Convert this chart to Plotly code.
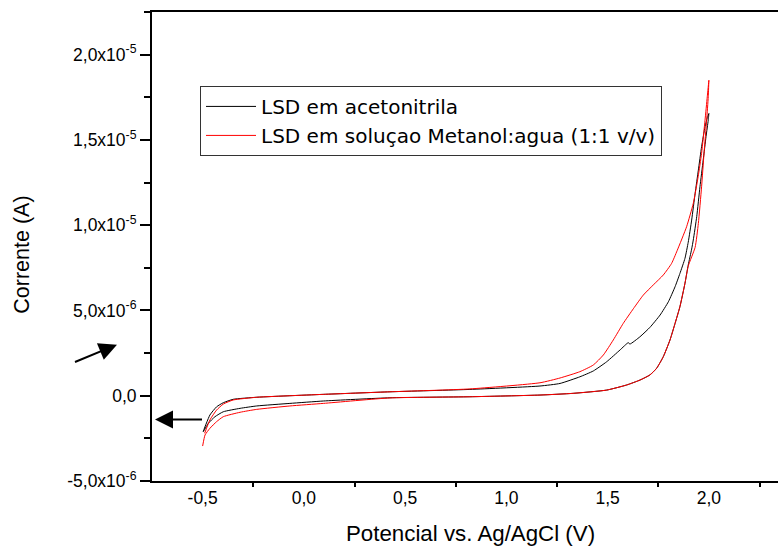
import plotly.graph_objects as go

# Potential (V vs Ag/AgCl) and current (µA), forward scan then reverse scan
acn_fwd_v = [-0.497, -0.464, -0.431, -0.398, -0.349, -0.233, -0.069, 0.096, 0.425, 0.820,
             1.166, 1.265, 1.363, 1.429, 1.495, 1.561, 1.602, 1.610, 1.660, 1.709,
             1.759, 1.800, 1.833, 1.857, 1.882, 1.898, 1.915, 1.932, 1.948, 1.964,
             1.981, 1.992, 2.000]
acn_fwd_i = [-2.11, -1.13, -0.65, -0.41, -0.21, -0.09, 0.00, 0.08, 0.23, 0.37,
             0.57, 0.72, 1.11, 1.45, 1.99, 2.68, 3.11, 3.03, 3.46, 4.01,
             4.73, 5.51, 6.39, 7.17, 8.06, 9.00, 10.30, 11.86, 13.23, 14.60,
             15.77, 16.30, 16.55]
acn_rev_v = [2.000, 1.997, 1.986, 1.972, 1.956, 1.940, 1.923, 1.915, 1.898, 1.882,
             1.857, 1.833, 1.808, 1.775, 1.742, 1.709, 1.660, 1.594, 1.495, 1.330,
             1.166, 0.820, 0.425, 0.096, -0.069, -0.233, -0.315, -0.398, -0.439, -0.472,
             -0.497]
acn_rev_i = [16.55, 16.16, 15.20, 13.82, 12.25, 10.50, 9.13, 8.60, 7.66, 6.59,
             5.22, 4.24, 3.27, 2.29, 1.61, 1.22, 0.92, 0.63, 0.33, 0.14,
             0.04, -0.06, -0.12, -0.31, -0.45, -0.60, -0.74, -0.94, -1.23, -1.62,
             -2.11]

meoh_fwd_v = [-0.490, -0.464, -0.431, -0.398, -0.349, -0.233, -0.069, 0.096, 0.425, 0.820,
              1.166, 1.265, 1.363, 1.429, 1.479, 1.528, 1.577, 1.627, 1.676, 1.725,
              1.775, 1.816, 1.843, 1.890, 1.923, 1.947, 1.964, 1.981, 1.992, 2.000]
meoh_fwd_i = [-2.20, -1.42, -0.84, -0.49, -0.25, -0.09, 0.00, 0.08, 0.23, 0.40,
              0.76, 1.04, 1.41, 1.80, 2.39, 3.27, 4.24, 5.10, 5.90, 6.49,
              7.08, 7.76, 8.50, 9.91, 11.28, 12.84, 14.21, 16.16, 17.53, 18.50]
meoh_rev_v = [2.000, 1.997, 1.989, 1.976, 1.964, 1.948, 1.932, 1.898, 1.882,
              1.857, 1.833, 1.808, 1.775, 1.742, 1.709, 1.660, 1.594, 1.495, 1.330,
              1.166, 0.820, 0.425, 0.096, -0.069, -0.233, -0.315, -0.398, -0.431, -0.464,
              -0.488, -0.500]
meoh_rev_i = [18.50, 17.53, 16.16, 14.21, 12.25, 10.10, 8.70, 7.60, 6.60,
              5.22, 4.24, 3.27, 2.29, 1.61, 1.22, 0.92, 0.63, 0.33, 0.14,
              0.04, -0.06, -0.13, -0.45, -0.60, -0.80, -0.97, -1.23, -1.52, -1.91,
              -2.30, -2.95]

x_tick_vals = [-0.5, 0.0, 0.5, 1.0, 1.5, 2.0]
x_tick_text = ["-0,5", "0,0", "0,5", "1,0", "1,5", "2,0"]
x_minor_vals = [-0.25, 0.25, 0.75, 1.25, 1.75, 2.25]
y_tick_vals = [-5e-6, 0.0, 5e-6, 1e-5, 1.5e-5, 2e-5]
y_tick_text = ["-5,0x10<sup>-6</sup>", "0,0", "5,0x10<sup>-6</sup>",
               "1,0x10<sup>-5</sup>", "1,5x10<sup>-5</sup>", "2,0x10<sup>-5</sup>"]

series = [
    ("LSD em acetonitrila", "#000000", acn_fwd_v + acn_rev_v, acn_fwd_i + acn_rev_i),
    ("LSD em soluçao Metanol:agua (1:1 v/v)", "#ff0000", meoh_fwd_v + meoh_rev_v, meoh_fwd_i + meoh_rev_i),
]

FONT = "Liberation Sans, Arial, Helvetica, sans-serif"
LEGEND_FONT = "DejaVu Sans, Verdana, sans-serif"

fig = go.Figure()
for name, color, v, i_ua in series:
    fig.add_trace(go.Scatter(
        x=v, y=[val * 1e-6 for val in i_ua], mode="lines", name=name,
        line=dict(color=color, width=1, shape="spline", smoothing=0.5),
    ))

# plot area: 152..778 px wide, 12..481.5 px tall
W, H = 778, 547
L, R, T, B = 152, 0, 12, 65.5
pw, ph = W - L - R, H - T - B
x0 = -0.75
px_per_v = 202.5

def px(xp):
    return (xp - L) / pw

def py(yp):
    return (H - B - yp) / ph

fig.update_layout(
    width=W, height=H,
    margin=dict(l=L, r=R, t=T, b=B, pad=0),
    plot_bgcolor="white", paper_bgcolor="white",
    font=dict(family=FONT, color="black", size=18),
    xaxis=dict(
        range=[x0, x0 + pw / px_per_v],
        tickmode="array", tickvals=x_tick_vals, ticktext=x_tick_text,
        ticks="", tickfont=dict(size=17.5),
        minor=dict(tickmode="array", tickvals=x_minor_vals, ticks="outside",
                   ticklen=4, tickwidth=2, tickcolor="black"),
        showline=True, linewidth=2, linecolor="black", mirror=True,
        showgrid=False, zeroline=False,
    ),
    yaxis=dict(
        range=[-5e-6, 2.25e-5],
        tickmode="array", tickvals=y_tick_vals, ticktext=y_tick_text,
        ticks="outside", ticklen=10, tickwidth=2, tickcolor="black",
        tickfont=dict(size=17.5),
        minor=dict(tickmode="linear", tick0=0, dtick=2.5e-6, ticks="outside",
                   ticklen=6, tickwidth=2, tickcolor="black"),
        showline=True, linewidth=2, linecolor="black",
        showgrid=False, zeroline=False,
    ),
    legend=dict(
        x=px(200), y=py(86), xanchor="left", yanchor="top",
        bgcolor="white", bordercolor="#333333", borderwidth=1,
        font=dict(size=20, family=LEGEND_FONT), itemwidth=50, tracegroupgap=0,
    ),
    annotations=[
        dict(text="Corrente (A)", textangle=-90, xref="paper", yref="paper",
             x=px(22), y=py(255), xanchor="center", yanchor="middle",
             showarrow=False, font=dict(size=21.5)),
        dict(text="Potencial vs. Ag/AgCl (V)", xref="paper", yref="paper",
             x=px(470.5), y=py(534), xanchor="center", yanchor="middle",
             showarrow=False, font=dict(size=22.3)),
        dict(text=" ", xref="paper", yref="paper", x=px(117), y=py(345),
             ax=71 - 117, ay=364 - 345, axref="pixel", ayref="pixel",
             showarrow=True, arrowhead=2, arrowsize=1.8, arrowwidth=2, arrowcolor="black"),
        dict(text=" ", xref="paper", yref="paper", x=px(155), y=py(420),
             ax=206 - 155, ay=0, axref="pixel", ayref="pixel",
             showarrow=True, arrowhead=2, arrowsize=1.8, arrowwidth=2, arrowcolor="black"),
    ],
)

fig.write_html("out.html")
